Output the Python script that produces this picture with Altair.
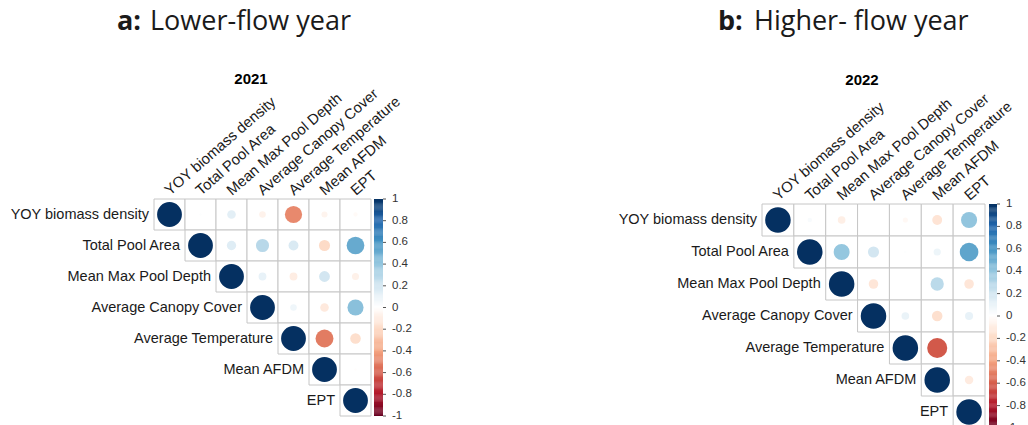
import altair as alt
import pandas as pd
import numpy as np

# ---------------- data ----------------
variables = ["YOY biomass density", "Total Pool Area", "Mean Max Pool Depth",
             "Average Canopy Cover", "Average Temperature", "Mean AFDM", "EPT"]

# upper-triangle correlations (row i, columns i+1 .. end)
upper_2021 = [
    [0.01, 0.12, -0.07, -0.48, -0.06, -0.03],
    [0.14, 0.28, 0.16, -0.20, 0.51],
    [0.10, -0.10, 0.19, -0.08],
    [0.07, -0.12, 0.42],
    [-0.52, -0.18],
    [-0.01],
]
upper_2022 = [
    [0.03, -0.09, 0.00, -0.04, -0.15, 0.40],
    [0.39, 0.19, 0.01, 0.08, 0.53],
    [-0.14, 0.00, 0.27, -0.14],
    [0.09, -0.17, 0.10],
    [-0.62, 0.00],
    [-0.11],
]

bar_ticks = [1, 0.8, 0.6, 0.4, 0.2, 0, -0.2, -0.4, -0.6, -0.8, -1]
bar_labels = ["1", "0.8", "0.6", "0.4", "0.2", "0", "-0.2", "-0.4", "-0.6", "-0.8", "-1"]

rdbu_stops = [-1, -0.8, -0.6, -0.4, -0.2, 0, 0.2, 0.4, 0.6, 0.8, 1]
rdbu_colors = ["#67001F", "#B2182B", "#D6604D", "#F4A582", "#FDDBC7", "#FFFFFF",
               "#D1E5F0", "#92C5DE", "#4393C3", "#2166AC", "#053061"]

LABEL_FONT = "Liberation Sans"
TEXT_COLOR = "#1a1a1a"

cscale = alt.Scale(type="linear", domain=rdbu_stops, range=rdbu_colors, interpolate="rgb")


def cells_df(upper):
    rows = []
    for i, v in enumerate(variables):
        rows.append((v, v, 1.0))
        if i < len(upper):
            for k, r in enumerate(upper[i]):
                rows.append((v, variables[i + 1 + k], r))
    return pd.DataFrame(rows, columns=["row", "col", "r"])


def grid_panel(upper, xr, yr, maxarea, year, year_x, year_y):
    cell = (xr[1] - xr[0]) / len(variables)
    df = cells_df(upper)
    xs = alt.Scale(type="band", domain=variables, range=xr, paddingInner=0, paddingOuter=0)
    ys = alt.Scale(type="band", domain=variables, range=yr, paddingInner=0, paddingOuter=0)
    X = alt.X("col:N", scale=xs, axis=None)
    Y = alt.Y("row:N", scale=ys, axis=None)
    rect = alt.Chart(df).mark_rect(fill="white", stroke="#C6C6C6", strokeWidth=1).encode(x=X, y=Y)
    circ = alt.Chart(df).transform_calculate(a="abs(datum.r)").mark_circle(opacity=1).encode(
        x=X, y=Y,
        size=alt.Size("a:Q", scale=alt.Scale(domain=[0, 1], range=[0, maxarea]), legend=None),
        color=alt.Color("r:Q", scale=cscale, legend=None),
    )
    lab = pd.DataFrame({"var": variables, "top": variables[0]})
    rowlab = alt.Chart(lab).mark_text(
        align="right", baseline="middle", dx=-(cell / 2 + 5), fontSize=14.5,
        font=LABEL_FONT, color=TEXT_COLOR,
    ).encode(
        x=alt.X("var:N", scale=xs, axis=None),
        y=alt.Y("var:N", scale=ys, axis=None),
        text="var:N",
    )
    collab = alt.Chart(lab).mark_text(
        align="left", baseline="middle", angle=319, yOffset=-(cell / 2 + 6), xOffset=-2,
        fontSize=14.8, font=LABEL_FONT, color=TEXT_COLOR,
    ).encode(
        x=alt.X("var:N", scale=xs, axis=None),
        y=alt.Y("top:N", scale=ys, axis=None),
        text="var:N",
    )
    ttl = alt.Chart(pd.DataFrame({"t": [year]})).mark_text(
        align="center", baseline="alphabetic", fontSize=15, fontWeight="bold",
        font=LABEL_FONT, color="#000000",
    ).encode(text="t:N", x=alt.value(year_x), y=alt.value(year_y))
    return alt.layer(rect, circ, rowlab, collab, ttl)


def colorbar(x0, x1, yr, label_x):
    v = np.round(np.arange(-1, 1, 0.01), 3)
    bdf = pd.DataFrame({"v": v, "v2": np.minimum(v + 0.012, 1)})
    bys = alt.Scale(domain=[-1, 1], range=yr, nice=False, zero=False)
    bar = alt.Chart(bdf).mark_rect().encode(
        y=alt.Y("v:Q", scale=bys, axis=None), y2="v2:Q",
        x=alt.value(x0), x2=alt.value(x1),
        color=alt.Color("v:Q", scale=cscale, legend=None),
    )
    tdf = pd.DataFrame({"t": bar_ticks, "lab": bar_labels})
    ticks = alt.Chart(tdf).mark_rule(color="#555555", strokeWidth=1).encode(
        y=alt.Y("t:Q", scale=bys, axis=None), x=alt.value(x1), x2=alt.value(x1 + 3),
    )
    labels = alt.Chart(tdf).mark_text(
        align="left", baseline="middle", fontSize=11.5, font=LABEL_FONT, color="#333333",
    ).encode(y=alt.Y("t:Q", scale=bys, axis=None), x=alt.value(label_x), text="lab:N")
    return alt.layer(bar, ticks, labels)


def header_text(txt, x, bold):
    return alt.Chart(pd.DataFrame({"t": [txt]})).mark_text(
        align="left", baseline="alphabetic", fontSize=27, font="Open Sans",
        fontWeight="bold" if bold else "normal", color="#1a1a1a",
    ).encode(text="t:N", x=alt.value(x), y=alt.value(30))


grid_a = grid_panel(upper_2021, [154, 371], [199, 416], 616, "2021", 251, 84)
bar_a = colorbar(374, 383, [416, 199], 392)
grid_b = grid_panel(upper_2022, [762, 985], [204, 428], 651, "2022", 862, 85)
bar_b = colorbar(989, 997, [428, 204], 1006)

headers = [
    header_text("a:", 117, True),
    header_text("Lower-flow year", 150, False),
    header_text("b:", 718, True),
    header_text("Higher- flow year", 754, False),
]

chart = alt.layer(grid_a, bar_a, grid_b, bar_b, *headers).resolve_scale(
    x="independent", y="independent", color="independent", size="independent"
).properties(
    width=1028, height=425, padding=0,
    autosize=alt.AutoSizeParams(type="none"),
    background="white",
).configure_view(stroke=None)

chart.save("out.html", embed_options={"renderer": "svg", "actions": False})
